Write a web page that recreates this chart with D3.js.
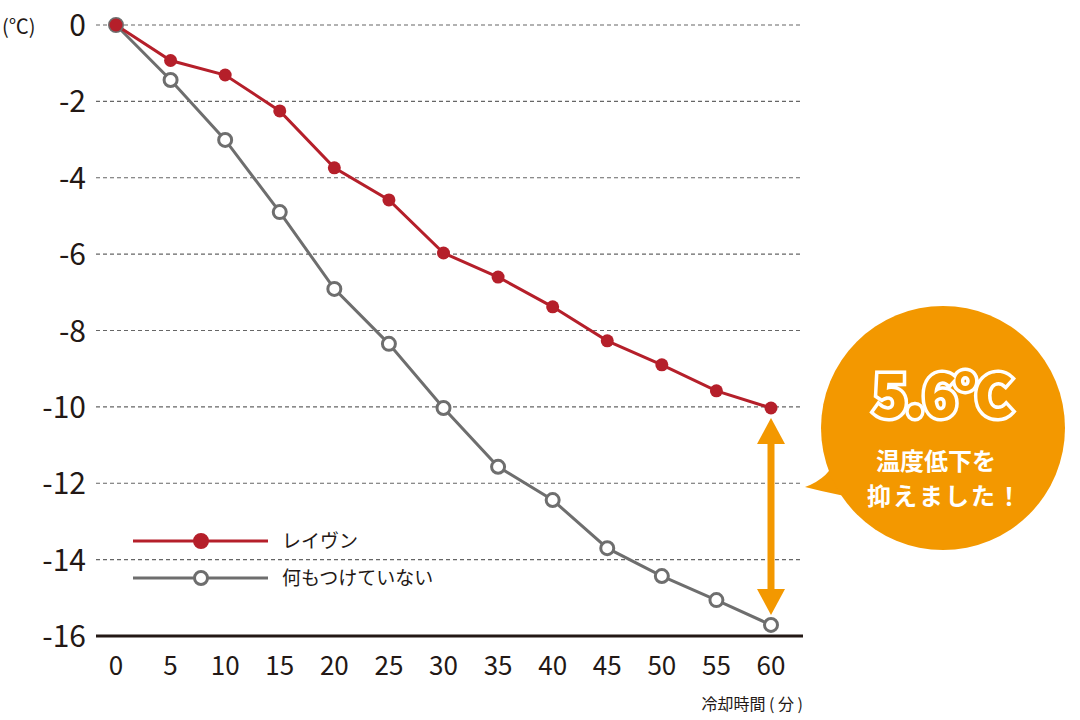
<!DOCTYPE html>
<html><head><meta charset="utf-8">
<script src="https://cdn.jsdelivr.net/npm/d3@7"></script>
<style>body{margin:0;background:#fff}text{font-family:"Noto Sans CJK JP","Noto Sans",sans-serif}</style>
</head><body><svg id="c" width="1080" height="720"></svg>
<script>
const minutes=[0,5,10,15,20,25,30,35,40,45,50,55,60];
const raivin=[0,-0.93,-1.31,-2.25,-3.74,-4.58,-5.97,-6.6,-7.38,-8.27,-8.9,-9.58,-10.03];
const nothing=[0,-1.44,-3.01,-4.9,-6.91,-8.35,-10.03,-11.57,-12.44,-13.7,-14.43,-15.06,-15.71];
const yTicks=[0,-2,-4,-6,-8,-10,-12,-14,-16];
const seriesNames=["レイヴン","何もつけていない"];
const svg=d3.select("#c");
const x=d3.scaleLinear().domain([0,60]).range([116,771]);
const y=d3.scaleLinear().domain([0,-16]).range([25,636]);
svg.selectAll(".g").data(yTicks.slice(0,-1)).join("line").attr("x1",96).attr("x2",803)
 .attr("y1",d=>y(d)).attr("y2",d=>y(d)).attr("stroke","#666").attr("stroke-dasharray","4,3").attr("stroke-width",1.2);
svg.append("line").attr("x1",96).attr("x2",803).attr("y1",y(-16)).attr("y2",y(-16)).attr("stroke","#231815").attr("stroke-width",3);
svg.selectAll(".yt").data(yTicks).join("text").attr("x",86).attr("y",d=>y(d)+11).attr("text-anchor","end")
 .attr("font-size",30).attr("fill","#231815").text(d=>d);
svg.selectAll(".xt").data(minutes).join("text").attr("x",d=>x(d)).attr("y",675).attr("text-anchor","middle")
 .attr("font-size",26).attr("fill","#231815").text(d=>d);
svg.append("text").attr("x",2).attr("y",34).attr("font-size",20).attr("fill","#231815").text("(℃)");
svg.append("text").attr("x",803).attr("y",710).attr("text-anchor","end").attr("font-size",16).attr("fill","#231815").text("冷却時間 ( 分 )");
const line=d3.line().x((d,i)=>x(minutes[i])).y(d=>y(d));
svg.append("path").datum(nothing).attr("d",line).attr("fill","none").attr("stroke","#6e6e6e").attr("stroke-width",3);
svg.append("path").datum(raivin).attr("d",line).attr("fill","none").attr("stroke","#b51f2a").attr("stroke-width",3);
svg.selectAll(".pn").data(nothing).join("circle").attr("cx",(d,i)=>x(minutes[i])).attr("cy",d=>y(d)).attr("r",6.5)
 .attr("fill","#fff").attr("stroke","#6e6e6e").attr("stroke-width",3);
svg.selectAll(".pr").data(raivin).join("circle").attr("cx",(d,i)=>x(minutes[i])).attr("cy",d=>y(d)).attr("r",6.5).attr("fill","#b51f2a");
const lg=[{c:"#b51f2a",y:541,fill:"#b51f2a"},{c:"#6e6e6e",y:578,fill:"#fff"}];
lg.forEach((l,i)=>{
 svg.append("line").attr("x1",133).attr("x2",268).attr("y1",l.y).attr("y2",l.y).attr("stroke",l.c).attr("stroke-width",3);
 svg.append("circle").attr("cx",201).attr("cy",l.y).attr("r",6.5).attr("fill",l.fill).attr("stroke",l.c).attr("stroke-width",3);
 svg.append("text").attr("x",282).attr("y",l.y+7).attr("font-size",19).attr("fill","#231815").text(seriesNames[i]);
});
const ax=x(60), ay1=y(raivin[12])+10, ay2=y(nothing[12])-10, org="#f39800";
svg.append("line").attr("x1",ax).attr("x2",ax).attr("y1",ay1+20).attr("y2",ay2-20).attr("stroke",org).attr("stroke-width",7);
svg.append("path").attr("d",`M${ax},${ay1}L${ax-14},${ay1+26}L${ax+14},${ay1+26}Z`).attr("fill",org);
svg.append("path").attr("d",`M${ax},${ay2}L${ax-14},${ay2-26}L${ax+14},${ay2-26}Z`).attr("fill",org);
svg.append("path").attr("d","M805,487 Q830,478 838,455 L870,500 Q840,496 805,487Z").attr("fill",org);
svg.append("circle").attr("cx",943).attr("cy",428).attr("r",122).attr("fill",org);
svg.append("text").attr("x",941).attr("y",417).attr("text-anchor","middle").attr("font-size",58).attr("font-weight",900)
 .attr("fill",org).attr("stroke","#fff").attr("stroke-width",7).attr("paint-order","stroke").attr("letter-spacing",-3).text("5.6℃");
svg.append("text").attr("x",936).attr("y",470).attr("text-anchor","middle").attr("font-size",24).attr("font-weight",700).attr("fill","#fff").text("温度低下を");
svg.append("text").attr("x",945).attr("y",505).attr("text-anchor","middle").attr("font-size",24).attr("font-weight",700).attr("fill","#fff").attr("letter-spacing",2).text("抑えました！");
</script></body></html>
